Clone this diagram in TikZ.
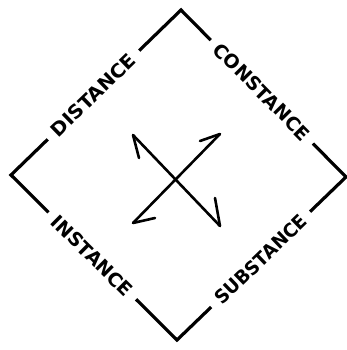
\documentclass[tikz,border=0pt]{standalone}
\usepackage{fontspec}
\setmainfont{DejaVu Sans}
\usetikzlibrary{calc}
\newcommand\diamlbl[2]{\resizebox{#1}{14pt}{\bfseries #2}}
\begin{document}
\begin{tikzpicture}[x=1pt,y=-1pt,
  edge/.style={line width=3.2pt},
  arr/.style={line width=2.6pt, line cap=round},
  lbl/.style={sloped, inner xsep=8.5pt, inner ysep=2pt}]
\useasboundingbox (0,0) rectangle (347,350);
% vertices
\coordinate (top) at (181,10);
\coordinate (left) at (11,175);
\coordinate (right) at (346,177);
\coordinate (bottom) at (177,340);
% labels
\path (left) -- (top) node[lbl, pos=0.485] (dist) {\diamlbl{110pt}{DISTANCE}};
\path (top) -- (right) node[lbl, pos=0.49] (const) {\diamlbl{128pt}{CONSTANCE}};
\path (bottom) -- (right) node[lbl, pos=0.495] (subst) {\diamlbl{120pt}{SUBSTANCE}};
\path (left) -- (bottom) node[lbl, pos=0.49] (inst) {\diamlbl{106pt}{INSTANCE}};
% edges
\draw[edge] (dist) -- (left) -- (inst);
\draw[edge] (dist) -- (top) -- (const);
\draw[edge] (const) -- (right) -- (subst);
\draw[edge] (inst) -- (bottom) -- (subst);
% cross arrows
\coordinate (nw) at (133,135);
\coordinate (ne) at (220,134);
\coordinate (se) at (220,226);
\coordinate (sw) at (133,223);
\coordinate (nwb) at (139,158);
\coordinate (neb) at (200,141);
\coordinate (seb) at (215,198);
\coordinate (swb) at (155,218);
\draw[arr] (nw) -- (se);
\draw[arr] (ne) -- (sw);
\draw[arr] (nw) -- (nwb);
\draw[arr] (ne) -- (neb);
\draw[arr] (se) -- (seb);
\draw[arr] (sw) -- (swb);
\end{tikzpicture}
\end{document}
